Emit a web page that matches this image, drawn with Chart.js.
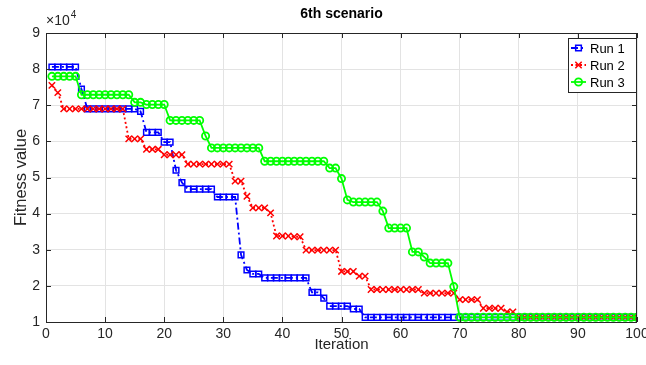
<!DOCTYPE html>
<html>
<head>
<meta charset="utf-8">
<title>6th scenario</title>
<script src="https://cdn.jsdelivr.net/npm/chart.js@4.4.1/dist/chart.umd.min.js"></script>
<style>
  html, body { margin: 0; padding: 0; background: #fff; }
  #wrap { width: 646px; height: 365px; }
</style>
</head>
<body>
<div id="wrap"><canvas id="fitnessChart" width="646" height="365"></canvas></div>
<script>
// iteration numbers (x axis)
var iterations = [
  1, 2, 3, 4, 5, 6, 7, 8, 9, 10, 11, 12, 13, 14, 15, 16, 17, 18, 19, 20,
  21, 22, 23, 24, 25, 26, 27, 28, 29, 30, 31, 32, 33, 34, 35, 36, 37, 38, 39, 40,
  41, 42, 43, 44, 45, 46, 47, 48, 49, 50, 51, 52, 53, 54, 55, 56, 57, 58, 59, 60,
  61, 62, 63, 64, 65, 66, 67, 68, 69, 70, 71, 72, 73, 74, 75, 76, 77, 78, 79, 80,
  81, 82, 83, 84, 85, 86, 87, 88, 89, 90, 91, 92, 93, 94, 95, 96, 97, 98, 99, 100
];

// fitness value per iteration
var run1 = [
  80600, 80600, 80600, 80600, 80600, 74500, 69000, 69000, 69000, 69000,
  69000, 69000, 69000, 69000, 69000, 68300, 62500, 62500, 62500, 59800,
  59800, 52000, 48600, 46800, 46800, 46800, 46800, 46800, 44600, 44600,
  44600, 44600, 28600, 24400, 23300, 23300, 22200, 22200, 22200, 22200,
  22200, 22200, 22200, 22200, 18200, 18200, 16600, 14400, 14400, 14400,
  14400, 13600, 13600, 11300, 11300, 11300, 11300, 11300, 11300, 11300,
  11300, 11300, 11300, 11300, 11300, 11300, 11300, 11300, 11300, 11300,
  11300, 11300, 11300, 11300, 11300, 11300, 11300, 11300, 11300, 11300,
  11300, 11300, 11300, 11300, 11300, 11300, 11300, 11300, 11300, 11300,
  11300, 11300, 11300, 11300, 11300, 11300, 11300, 11300, 11300, 11300
];
var run2 = [
  75500, 73500, 69000, 69000, 69000, 69000, 69000, 69000, 69000, 69000,
  69000, 69000, 69000, 60700, 60700, 60700, 57800, 57800, 57800, 56300,
  56300, 56300, 56300, 53700, 53700, 53700, 53700, 53700, 53700, 53700,
  53700, 49000, 49000, 44800, 41600, 41600, 41600, 40200, 33800, 33800,
  33800, 33600, 33600, 29900, 29900, 29900, 29900, 29900, 29900, 24000,
  24000, 24000, 22700, 22700, 19000, 19000, 19000, 19000, 19000, 19000,
  19000, 19000, 19000, 18000, 18000, 18000, 18000, 18000, 18000, 16200,
  16200, 16200, 16200, 13800, 13800, 13800, 13800, 12800, 12800, 11300,
  11300, 11300, 11300, 11300, 11300, 11300, 11300, 11300, 11300, 11300,
  11300, 11300, 11300, 11300, 11300, 11300, 11300, 11300, 11300, 11300
];
var run3 = [
  78000, 78000, 78000, 78000, 78000, 72900, 72900, 72900, 72900, 72900,
  72900, 72900, 72900, 72900, 70800, 70800, 70200, 70200, 70200, 70200,
  65800, 65800, 65800, 65800, 65800, 65800, 61500, 58200, 58200, 58200,
  58200, 58200, 58200, 58200, 58200, 58200, 54500, 54500, 54500, 54500,
  54500, 54500, 54500, 54500, 54500, 54500, 54500, 52600, 52600, 49700,
  43800, 43200, 43200, 43200, 43200, 43200, 40700, 36000, 36000, 36000,
  36000, 29400, 29400, 28000, 26300, 26300, 26300, 26300, 19800, 11300,
  11300, 11300, 11300, 11300, 11300, 11300, 11300, 11300, 11300, 11300,
  11300, 11300, 11300, 11300, 11300, 11300, 11300, 11300, 11300, 11300,
  11300, 11300, 11300, 11300, 11300, 11300, 11300, 11300, 11300, 11300
];
var runNames = ['Run 1', 'Run 2', 'Run 3'];
var yTicks = [10000, 20000, 30000, 40000, 50000, 60000, 70000, 80000, 90000];

var FONT = '"Liberation Sans", Arial, Helvetica, sans-serif';

function toPoints(values) {
  return values.map(function (v, i) { return { x: iterations[i], y: v }; });
}

// matlab look: box, inner ticks, title, exponent and legend inside the axes
var matlabFrame = {
  id: 'matlabFrame',
  afterDraw: function (chart) {
    var ctx = chart.ctx, a = chart.chartArea;
    var xs = chart.scales.x, ys = chart.scales.y;
    ctx.save();
    ctx.strokeStyle = '#262626';
    ctx.lineWidth = 1;
    ctx.setLineDash([]);
    ctx.strokeRect(a.left + 0.5, a.top + 0.5, a.right - a.left - 1, a.bottom - a.top);
    ctx.beginPath();
    xs.ticks.forEach(function (t) {
      var p = Math.round(xs.getPixelForValue(t.value)) + 0.5;
      ctx.moveTo(p, a.bottom); ctx.lineTo(p, a.bottom - 5);
      ctx.moveTo(p, a.top); ctx.lineTo(p, a.top + 5);
    });
    ys.ticks.forEach(function (t) {
      var p = Math.round(ys.getPixelForValue(t.value)) + 0.5;
      ctx.moveTo(a.left, p); ctx.lineTo(a.left + 5, p);
      ctx.moveTo(a.right, p); ctx.lineTo(a.right - 5, p);
    });
    ctx.stroke();

    // title
    ctx.fillStyle = '#000';
    ctx.font = 'bold 14px ' + FONT;
    ctx.textAlign = 'center';
    ctx.textBaseline = 'middle';
    ctx.fillText('6th scenario', (a.left + a.right) / 2, 14);

    // exponent label
    ctx.fillStyle = '#262626';
    ctx.font = '14px ' + FONT;
    ctx.textAlign = 'left';
    ctx.textBaseline = 'alphabetic';
    ctx.fillText('\u00d710', a.left, 25);
    var w = ctx.measureText('\u00d710').width;
    ctx.font = '10px ' + FONT;
    ctx.fillText('4', a.left + w + 1, 18);

    // legend
    var lx = 568, ly = 38, lw = 68, lh = 54;
    ctx.fillStyle = '#fff';
    ctx.fillRect(lx, ly, lw, lh);
    ctx.strokeStyle = '#262626';
    ctx.strokeRect(lx + 0.5, ly + 0.5, lw, lh);
    chart.data.datasets.forEach(function (ds, i) {
      var y = ly + 10 + i * 17;
      ctx.save();
      ctx.strokeStyle = ds.borderColor;
      ctx.lineWidth = ds.borderWidth;
      ctx.setLineDash(ds.borderDash || []);
      ctx.beginPath();
      ctx.moveTo(lx + 3, y); ctx.lineTo(lx + 18, y);
      ctx.stroke();
      ctx.setLineDash([]);
      ctx.lineWidth = ds.pointBorderWidth;
      ctx.fillStyle = 'rgba(0,0,0,0)';
      Chart.helpers.drawPoint(ctx, { pointStyle: ds.pointStyle, radius: ds.pointRadius, borderWidth: ds.pointBorderWidth }, lx + 10.5, y);
      ctx.restore();
      ctx.fillStyle = '#000';
      ctx.font = '13px ' + FONT;
      ctx.textBaseline = 'middle';
      ctx.fillText(ds.label, lx + 22, y + 1);
    });
    ctx.restore();
  }
};

var ctx = document.getElementById('fitnessChart').getContext('2d');
var fitnessChart = new Chart(ctx, {
  type: 'line',
  data: {
    datasets: [{
      label: runNames[0],
      data: toPoints(run1),
      borderColor: '#0000ff',
      borderWidth: 1.8,
      borderDash: [7, 3, 2, 3],
      pointStyle: 'rect',
      pointRadius: 4,
      pointBorderWidth: 1.5,
      pointBorderColor: '#0000ff',
      pointBackgroundColor: 'rgba(0,0,0,0)',
      order: 3
    }, {
      label: runNames[1],
      data: toPoints(run2),
      borderColor: '#ff0000',
      borderWidth: 1.8,
      borderDash: [2, 2.5],
      pointStyle: 'crossRot',
      pointRadius: 4.5,
      pointBorderWidth: 1.5,
      pointBorderColor: '#ff0000',
      pointBackgroundColor: 'rgba(0,0,0,0)',
      order: 2
    }, {
      label: runNames[2],
      data: toPoints(run3),
      borderColor: '#00ff00',
      borderWidth: 1.8,
      pointStyle: 'circle',
      pointRadius: 3.6,
      pointBorderWidth: 1.8,
      pointBorderColor: '#00ff00',
      pointBackgroundColor: 'rgba(0,0,0,0)',
      order: 1
    }]
  },
  options: {
    responsive: false,
    animation: false,
    layout: { padding: { top: 33, right: 9, left: 0, bottom: 0 } },
    plugins: {
      legend: { display: false },
      title: { display: false },
      tooltip: { enabled: false }
    },
    scales: {
      x: {
        type: 'linear',
        min: 0,
        max: 100,
        ticks: { stepSize: 10, padding: 4, color: '#262626', font: { family: FONT, size: 14 }, maxRotation: 0 },
        grid: { color: '#e3e3e3', drawTicks: false },
        border: { display: false },
        title: { display: true, text: 'Iteration', color: '#262626', font: { family: FONT, size: 15 }, padding: { top: 0, bottom: 11 } },
        afterFit: function (s) { s.height = 43; s.paddingLeft = 0; s.paddingRight = 0; }
      },
      y: {
        min: yTicks[0],
        max: yTicks[yTicks.length - 1],
        afterBuildTicks: function (s) { s.ticks = yTicks.map(function (v) { return { value: v }; }); },
        ticks: {
          padding: 6,
          color: '#262626',
          font: { family: FONT, size: 14 },
          callback: function (v) { return v / 10000; }
        },
        grid: { color: '#e3e3e3', drawTicks: false },
        border: { display: false },
        title: { display: true, text: 'Fitness value', color: '#262626', font: { family: FONT, size: 16.5 }, padding: { top: 12, bottom: 0 } },
        afterFit: function (s) { s.width = 46; }
      }
    }
  },
  plugins: [matlabFrame]
});
</script>
</body>
</html>
